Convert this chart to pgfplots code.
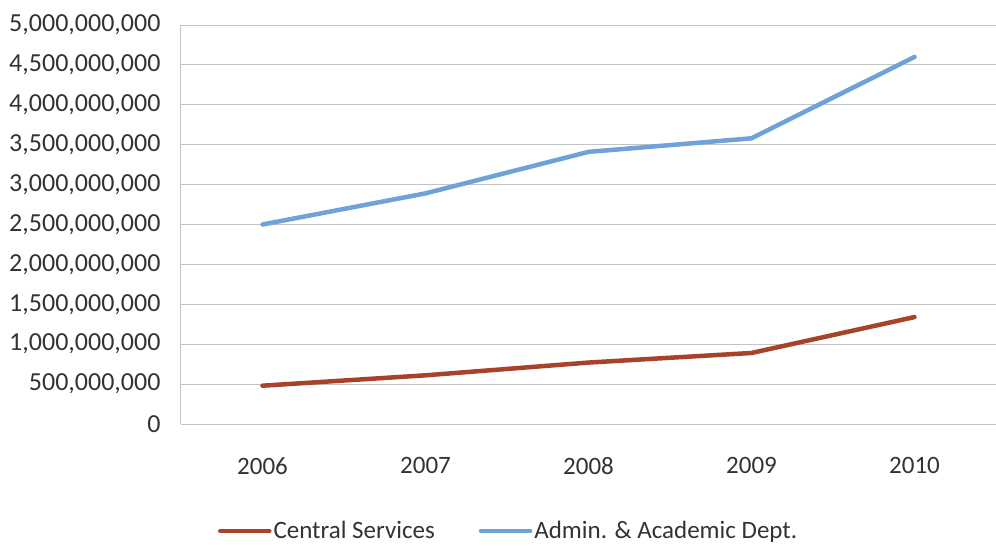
\documentclass[border=0pt]{standalone}
\usepackage{pgfplots}
\pgfplotsset{compat=1.18}
\usepackage{fontspec}
\setmainfont{Carlito}
\definecolor{redline}{HTML}{A8432A}
\definecolor{blueline}{HTML}{6FA2D8}
\definecolor{gridc}{HTML}{C4C4C4}
\definecolor{txt}{HTML}{333333}
\begin{document}
\begin{tikzpicture}
\path[use as bounding box] (-181pt,-122pt) rectangle (815pt,424pt);
\begin{axis}[
  at={(0,0)}, anchor=south west,
  scale only axis, width=815pt, height=399pt,
  xmin=-0.5, xmax=4.5, ymin=0, ymax=5000000000,
  xtick={0,1,2,3,4},
  xticklabels={2006,2007,2008,2009,2010},
  ytick={0,500000000,1000000000,1500000000,2000000000,2500000000,3000000000,3500000000,4000000000,4500000000,5000000000},
  yticklabels={0,{500,000,000},{1,000,000,000},{1,500,000,000},{2,000,000,000},{2,500,000,000},{3,000,000,000},{3,500,000,000},{4,000,000,000},{4,500,000,000},{5,000,000,000}},
  scaled y ticks=false,
  major tick length=0pt,
  ymajorgrids, grid style={gridc, line width=1pt},
  axis x line*=bottom, axis y line*=left,
  axis line style={gridc, line width=1pt},
  x axis line style={-}, y axis line style={-},
  tick label style={text=txt},
  yticklabel style={font=\fontsize{26}{30}\selectfont, xshift=-17pt},
  xticklabel style={font=\fontsize{25}{30}\selectfont, yshift=-30pt},
  legend style={at={(axis description cs:0.402,-0.268)}, anchor=center, draw=none, fill=none,
    font=\fontsize{25}{30}\selectfont, text=txt, legend columns=2,
    /tikz/every even column/.append style={column sep=42pt}},
  legend image code/.code={\draw[#1, line width=3.5pt] (0pt,0pt) -- (50pt,0pt);},
  clip=false,
]
\addplot[redline, line width=4.5pt, line cap=round, line join=round] coordinates {
  (0,480000000) (1,610000000) (2,770000000) (3,890000000) (4,1340000000)};
\addlegendentry{Central Services}
\addplot[blueline, line width=4.5pt, line cap=round, line join=round] coordinates {
  (0,2500000000) (1,2890000000) (2,3410000000) (3,3580000000) (4,4600000000)};
\addlegendentry{Admin. \& Academic Dept.}
\end{axis}
\end{tikzpicture}
\end{document}
